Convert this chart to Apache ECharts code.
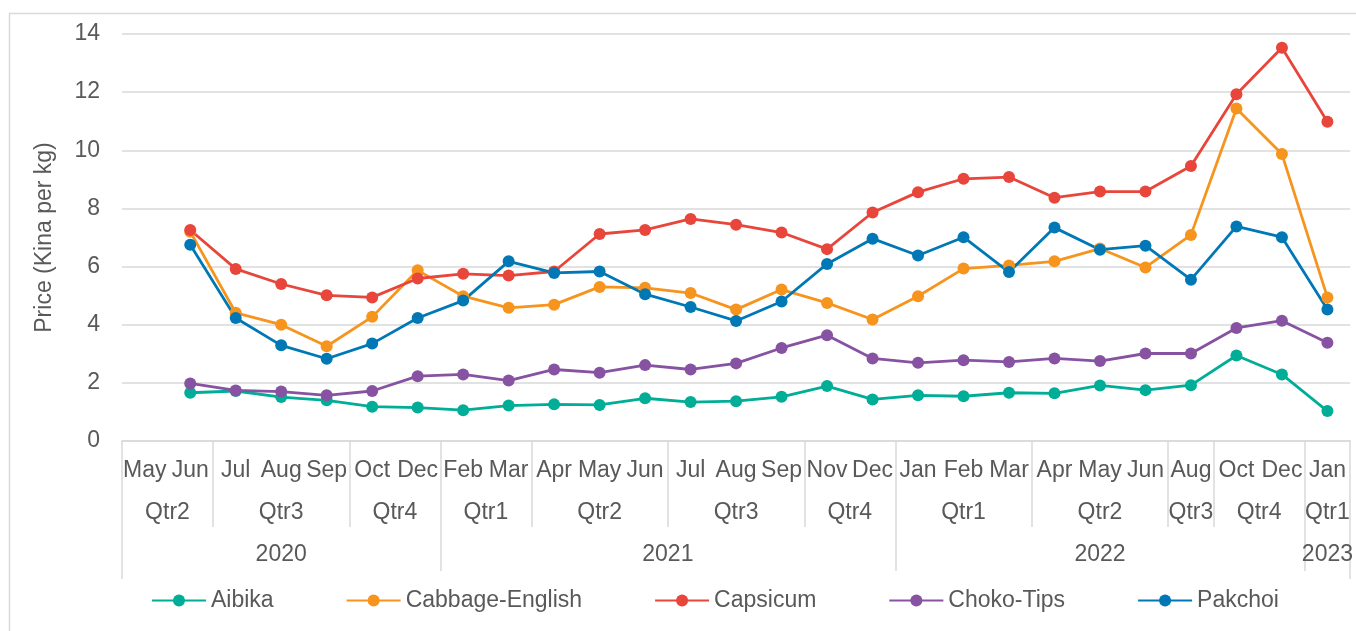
<!DOCTYPE html>
<html>
<head>
<meta charset="utf-8">
<script src="https://cdn.jsdelivr.net/npm/echarts@6/dist/echarts.min.js"></script>
<style>
html,body{margin:0;padding:0;background:#fff;}
#c{width:1356px;height:631px;}
</style>
</head>
<body>
<div id="c"></div>
<script>
const months = ['May','Jun','Jul','Aug','Sep','Oct','Dec','Feb','Mar','Apr','May','Jun','Jul','Aug','Sep','Nov','Dec','Jan','Feb','Mar','Apr','May','Jun','Aug','Oct','Dec','Jan'];
const quarterLabels = ['Qtr2','Qtr3','Qtr4','Qtr1','Qtr2','Qtr3','Qtr4','Qtr1','Qtr2','Qtr3','Qtr4','Qtr1'];
const quarterSpans = [2,3,2,2,3,3,2,3,3,1,2,1];
const yearLabels = ['2020','2021','2022','2023'];
const yearSpans = [7,10,9,1];
const yTicks = [0,2,4,6,8,10,12,14];

const seriesNames = ['Aibika','Cabbage-English','Capsicum','Choko-Tips','Pakchoi'];
const aibika   = [null,1.66,1.72,1.51,1.40,1.18,1.15,1.06,1.22,1.26,1.24,1.47,1.34,1.37,1.52,1.89,1.43,1.57,1.54,1.66,1.64,1.91,1.75,1.92,2.94,2.29,1.03];
const cabbage  = [null,7.20,4.41,4.00,3.26,4.27,5.87,4.98,4.58,4.69,5.30,5.27,5.09,4.52,5.21,4.75,4.18,4.98,5.93,6.04,6.18,6.62,5.97,7.09,11.44,9.87,4.94];
const capsicum = [null,7.26,5.92,5.40,5.01,4.94,5.59,5.75,5.69,5.83,7.12,7.26,7.64,7.44,7.17,6.60,7.86,8.56,9.02,9.08,8.37,8.58,8.58,9.46,11.93,13.53,10.98];
const choko    = [null,1.98,1.74,1.70,1.57,1.72,2.23,2.29,2.08,2.46,2.35,2.61,2.46,2.67,3.20,3.64,2.84,2.69,2.78,2.72,2.84,2.75,3.01,3.01,3.89,4.14,3.38];
const pakchoi  = [null,6.75,4.23,3.29,2.83,3.35,4.23,4.83,6.18,5.78,5.83,5.05,4.61,4.13,4.80,6.09,6.96,6.38,7.01,5.81,7.34,6.58,6.72,5.55,7.38,7.01,4.52];

const colors = ['#00ad97','#f7941d','#e8453b','#8752a2','#0078b5'];
const FONT = "'Liberation Sans', Arial, sans-serif";
const TXT = '#595959';
const LINE = '#d9d9d9';

// build a half-month grid (2 per month + 1) for group levels
function buildLevel(labels, spans) {
  const n = months.length * 2 + 1;
  const data = new Array(n).fill('');
  const bounds = new Set([0]);
  let start = 0;
  labels.forEach((lab, i) => {
    const end = start + spans[i];
    data[start + end] = lab;
    bounds.add(end * 2);
    start = end;
  });
  return {data, bounds};
}
const qLevel = buildLevel(quarterLabels, quarterSpans);
const yLevel = buildLevel(yearLabels, yearSpans);
const edgeData = new Array(months.length * 2 + 1).fill('');
const edgeBounds = new Set([0, months.length * 2]);

const chart = echarts.init(document.getElementById('c'), null, {renderer: 'canvas'});
const seriesData = [aibika, cabbage, capsicum, choko, pakchoi];

function levelAxis(level, len, margin) {
  return {
    type: 'category', gridIndex: 0, position: 'bottom', boundaryGap: false,
    data: level.data,
    axisLine: {show: false},
    axisTick: {show: true, length: len, interval: (idx) => level.bounds.has(idx), lineStyle: {color: LINE, width: 1.5}},
    axisLabel: {interval: 0, margin: margin, color: TXT, fontSize: 23, fontFamily: FONT},
    splitLine: {show: false}
  };
}

chart.setOption({
  animation: false,
  color: colors,
  graphic: [{
    type: 'rect', left: 7, top: 11, silent: true,
    shape: {x: 0.5, y: 0.5, width: 1360, height: 640},
    style: {fill: 'none', stroke: LINE, lineWidth: 1.5}
  }],
  grid: {left: 122, right: 4, top: 34, bottom: 190, containLabel: false},
  legend: {
    data: seriesNames, left: 146, top: 584, itemWidth: 54, itemHeight: 15, itemGap: 72,
    textStyle: {color: TXT, fontSize: 23, fontFamily: FONT}
  },
  xAxis: [
    {
      type: 'category', gridIndex: 0, position: 'bottom', data: months, boundaryGap: true,
      axisLine: {show: true, lineStyle: {color: LINE, width: 1.5}},
      axisTick: {show: false},
      axisLabel: {interval: 0, margin: 18, color: TXT, fontSize: 23, fontFamily: FONT},
      splitLine: {show: false}
    },
    levelAxis(qLevel, 86, 60),
    levelAxis(yLevel, 130, 102),
    levelAxis({data: edgeData, bounds: edgeBounds}, 138, 0)
  ],
  yAxis: {
    type: 'value', min: yTicks[0], max: yTicks[yTicks.length - 1], interval: 2,
    name: 'Price (Kina per kg)', nameLocation: 'middle', nameGap: 66,
    nameTextStyle: {color: TXT, fontSize: 23, fontFamily: FONT},
    axisLine: {show: false}, axisTick: {show: false},
    axisLabel: {margin: 22, color: TXT, fontSize: 23, fontFamily: FONT},
    splitLine: {show: true, lineStyle: {color: LINE, width: 1.5}}
  },
  series: seriesNames.map((name, i) => ({
    name: name, type: 'line', xAxisIndex: 0, data: seriesData[i],
    symbol: 'circle', symbolSize: 12, showSymbol: true,
    lineStyle: {width: 2.8, color: colors[i]},
    itemStyle: {color: colors[i]},
    connectNulls: false
  }))
});
</script>
</body>
</html>
